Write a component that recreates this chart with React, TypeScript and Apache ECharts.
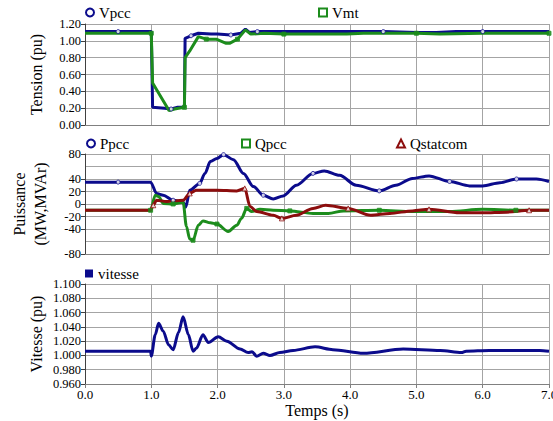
import React, { useEffect, useRef } from "react";
import * as echarts from "echarts";

// ---- Top panel: voltages (pu)
const vpccT = [0, 0.5, 1.0, 1.02, 1.2, 1.3, 1.4, 1.5, 1.51, 1.6, 1.71, 1.9, 2.0, 2.2, 2.35, 2.42, 2.48, 2.6, 3.0, 3.5, 4.0, 4.5, 5.0, 5.3, 5.6, 6.0, 6.5, 7.0];
const vpccV = [1.11, 1.11, 1.11, 0.21, 0.2, 0.19, 0.21, 0.21, 1.03, 1.06, 1.09, 1.08, 1.08, 1.07, 1.09, 1.14, 1.1, 1.11, 1.11, 1.11, 1.11, 1.11, 1.1, 1.1, 1.11, 1.11, 1.11, 1.11];
const vmtT = [0, 0.5, 1.0, 1.02, 1.27, 1.35, 1.5, 1.51, 1.58, 1.71, 1.83, 1.98, 2.13, 2.18, 2.3, 2.42, 2.5, 2.7, 3.0, 3.5, 3.95, 4.2, 5.0, 5.35, 6.0, 6.5, 7.0];
const vmtV = [1.09, 1.09, 1.09, 0.5, 0.17, 0.19, 0.21, 0.8, 0.88, 1.05, 1.02, 1.02, 0.97, 0.97, 1.02, 1.13, 1.08, 1.09, 1.08, 1.08, 1.08, 1.09, 1.09, 1.08, 1.09, 1.09, 1.09];

// ---- Middle panel: powers (MW, MVAr)
const ppccT = [0, 0.5, 0.99, 1.08, 1.18, 1.33, 1.48, 1.52, 1.58, 1.73, 1.81, 1.89, 1.99, 2.09, 2.24, 2.39, 2.54, 2.69, 2.84, 2.99, 3.19, 3.44, 3.61, 3.84, 4.09, 4.44, 4.69, 4.94, 5.19, 5.5, 5.8, 6.0, 6.26, 6.51, 6.81, 7.0];
const ppccV = [35, 35, 35, 17, 14, 6, 3, -5, 22, 33, 49, 68, 73, 79, 71, 49, 28, 14, 8, 13, 30, 49, 53, 46, 30, 21, 30, 41, 45, 36, 29, 29, 34, 40, 40, 36];
const qpccT = [0, 0.5, 0.99, 1.06, 1.11, 1.18, 1.33, 1.48, 1.53, 1.58, 1.63, 1.71, 1.78, 1.89, 1.99, 2.16, 2.29, 2.36, 2.44, 2.51, 2.64, 2.84, 3.09, 3.44, 3.67, 3.9, 4.44, 4.94, 5.5, 6.0, 6.5, 7.0];
const qpccV = [-10, -10, -10, 14, 12, 1, 0, 3, -36, -56, -58, -34, -27, -30, -32, -44, -34, -23, -7, -12, -8.5, -10, -11, -15, -15, -11, -10, -12, -12, -8.5, -10, -10];
const qstatT = [0, 0.5, 0.99, 1.03, 1.08, 1.23, 1.48, 1.58, 1.68, 1.99, 2.29, 2.41, 2.49, 2.59, 2.84, 2.97, 3.19, 3.44, 3.63, 3.97, 4.31, 4.6, 4.94, 5.19, 5.65, 6.0, 6.36, 6.7, 7.0];
const qstatV = [-10, -10, -10, -2, 6, 4, 6, 17, 22, 22, 21, 25, -4, -12, -18, -23, -18, -7, -2, -7, -18, -15, -11, -8.5, -14, -14, -13, -10, -10];

// ---- Bottom panel: speed (pu)
const vitT = [0, 0.5, 0.99, 1.0, 1.06, 1.11, 1.18, 1.26, 1.33, 1.41, 1.48, 1.56, 1.63, 1.68, 1.78, 1.86, 2.01, 2.14, 2.34, 2.46, 2.52, 2.59, 2.69, 2.79, 2.94, 3.14, 3.47, 3.74, 4.2, 4.8, 5.36, 5.68, 5.75, 6.1, 6.86, 7.0];
const vitV = [1.006, 1.006, 1.006, 0.999, 1.029, 1.045, 1.034, 1.015, 1.008, 1.032, 1.054, 1.029, 1.006, 1.01, 1.029, 1.018, 1.026, 1.02, 1.009, 1.004, 1.005, 0.999, 1.003, 1.0, 1.004, 1.007, 1.012, 1.008, 1.003, 1.009, 1.007, 1.004, 1.006, 1.007, 1.007, 1.006];

const FONT = "Liberation Serif";
const BLUE = "#0b0b8c";
const GREEN = "#1c8c1c";
const RED = "#8c0d0d";
const GRIDC = "#a4a4a4";

const pairs = (t: number[], v: number[]) => t.map((x, i) => [x, v[i]]);
const every = (arr: number[][], step: number, off: number) => arr.filter((_, i) => i % step === off);

export default function App() {
  const ref = useRef<HTMLDivElement>(null);
  useEffect(() => {
    if (!ref.current) return;
    const chart = echarts.init(ref.current, null, { renderer: "svg" });

    const grids = [
      { left: 85, right: 4, top: 24, height: 101, containLabel: false, outerBoundsMode: "none" },
      { left: 85, right: 4, top: 154, height: 100, containLabel: false, outerBoundsMode: "none" },
      { left: 85, right: 4, top: 284, height: 100, containLabel: false, outerBoundsMode: "none" },
    ];

    const xAxis = [0, 1, 2].map((g) => ({
      type: "value",
      gridIndex: g,
      min: 0,
      max: 7,
      interval: 1,
      axisLine: { show: true, onZero: false, lineStyle: { color: "#808080", width: 1 } },
      axisTick: { show: g === 2, length: 4, lineStyle: { color: "#808080" } },
      axisLabel: {
        show: g === 2,
        interval: 0,
        showMinLabel: true,
        showMaxLabel: true,
        formatter: (v: number) => v.toFixed(1),
        fontFamily: FONT,
        fontSize: 13,
        color: "#000",
        margin: 4,
      },
      splitLine: { show: true, lineStyle: { color: GRIDC, width: 1, type: "solid" } },
      name: g === 2 ? "Temps (s)" : "",
      nameLocation: "middle",
      nameGap: 18,
      nameMoveOverlap: false,
      nameTextStyle: { fontFamily: FONT, fontSize: 16, color: "#000" },
    }));

    const yCommon = (g: number) => ({
      type: "value",
      gridIndex: g,
      axisLine: { show: true, lineStyle: { color: "#404040", width: 1 } },
      axisTick: { show: true, interval: 0, length: 4, lineStyle: { color: "#404040" } },
      splitLine: { show: true, interval: 0, lineStyle: { color: GRIDC, width: 1 } },
      nameLocation: "middle",
      nameRotate: 90,
      nameMoveOverlap: false,
      nameTextStyle: { fontFamily: FONT, fontSize: 16, color: "#000", lineHeight: 21 },
    });
    const yLabel = (fmt: (v: number) => string) => ({
      formatter: fmt,
      interval: 0,
      showMinLabel: true,
      showMaxLabel: true,
      hideOverlap: false,
      fontFamily: FONT,
      fontSize: 12.5,
      lineHeight: 12,
      color: "#000",
      margin: 4,
    });

    const yAxis = [
      {
        ...yCommon(0),
        min: 0,
        max: 1.2,
        interval: 0.2,
        axisLabel: yLabel((v: number) => v.toFixed(2)),
        name: "Tension (pu)",
        nameGap: 38,
      },
      {
        ...yCommon(1),
        min: -80,
        max: 80,
        interval: 20,
        axisLabel: yLabel((v: number) => String(v)),
        name: "Puissance\n(MW,MVAr)",
        nameGap: 34,
      },
      {
        ...yCommon(2),
        min: 0.96,
        max: 1.1,
        interval: 0.02,
        axisLabel: yLabel((v: number) => v.toFixed(3)),
        name: "Vitesse (pu)",
        nameGap: 38,
      },
    ];

    const line = (name: string, data: number[][], color: string, g: number) => ({
      type: "line",
      name,
      xAxisIndex: g,
      yAxisIndex: g,
      data,
      symbol: "none",
      smooth: g === 0 ? false : 0.3,
      smoothMonotone: "x",
      lineStyle: { color, width: 3 },
      itemStyle: { color },
      z: 2,
    });
    const marks = (name: string, data: number[][], color: string, g: number, symbol: string, size: number) => ({
      type: "scatter",
      name,
      xAxisIndex: g,
      yAxisIndex: g,
      data,
      symbol,
      symbolSize: size,
      itemStyle: { color: symbol === "rect" ? color : "#fff", borderColor: color, borderWidth: 1 },
      z: 3,
    });

    const vpcc = pairs(vpccT, vpccV);
    const vmt = pairs(vmtT, vmtV);
    const ppcc = pairs(ppccT, ppccV);
    const qpcc = pairs(qpccT, qpccV);
    const qstat = pairs(qstatT, qstatV);
    const vit = pairs(vitT, vitV);

    const series = [
      line("Vpcc", vpcc, BLUE, 0),
      line("Vmt", vmt, GREEN, 0),
      marks("Vpcc", every(vpcc, 4, 1), BLUE, 0, "circle", 4),
      marks("Vmt", every(vmt, 4, 2), GREEN, 0, "rect", 4),
      line("Ppcc", ppcc, BLUE, 1),
      line("Qpcc", qpcc, GREEN, 1),
      line("Qstatcom", qstat, RED, 1),
      marks("Ppcc", every(ppcc, 4, 1), BLUE, 1, "circle", 4),
      marks("Qpcc", every(qpcc, 4, 2), GREEN, 1, "rect", 4),
      marks("Qstatcom", every(qstat, 4, 3), RED, 1, "triangle", 5),
      line("vitesse", vit, BLUE, 2),
    ];

    const lg = (name: string, icon: string, left: number, top: number) => ({
      data: [{ name, icon }],
      left,
      top,
      padding: 0,
      itemWidth: 8,
      itemHeight: 8,
      selectedMode: false,
      textStyle: { fontFamily: FONT, fontSize: 15, color: "#000" },
    });

    chart.setOption({
      animation: false,
      backgroundColor: "#fff",
      grid: grids,
      xAxis,
      yAxis,
      legend: [
        lg("Vpcc", "emptyCircle", 85, 5),
        lg("Vmt", "emptyRect", 318, 5),
        lg("Ppcc", "emptyCircle", 86, 136),
        lg("Qpcc", "emptyRect", 241, 136),
        lg("Qstatcom", "emptyTriangle", 396, 136),
        lg("vitesse", "rect", 85, 266),
      ],
      series,
    });
    return () => chart.dispose();
  }, []);
  return (
    <div
      ref={ref}
      style={{ position: "fixed", left: 0, top: 0, width: 553, height: 421, background: "#fff" }}
    />
  );
}
